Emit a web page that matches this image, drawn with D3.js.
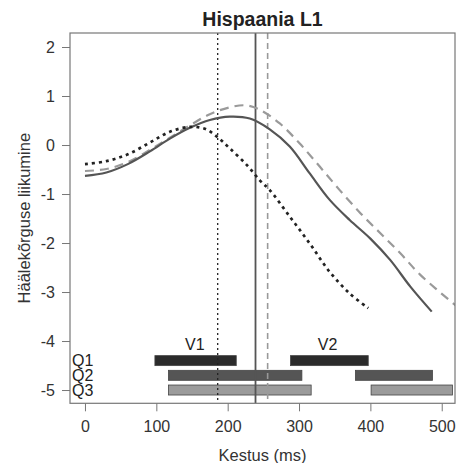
<!DOCTYPE html>
<html>
<head>
<meta charset="utf-8">
<script src="https://cdn.jsdelivr.net/npm/d3@7"></script>
<style>
  body { margin: 0; background: #fff; }
  svg { font-family: "Liberation Sans", Arial, sans-serif; }
</style>
</head>
<body>
<div class="chart"></div>
<script>
// pitch movement curves, Hispaania L1

var chartTitle = "Hispaania L1";
var xLabel = "Kestus (ms)";
var yLabel = "Häälekõrguse liikumine";

var xTicks = [0, 100, 200, 300, 400, 500];
var yTicks = [2, 1, 0, -1, -2, -3, -4, -5];

// [ms, value]
var solidCurve = [[0,-0.63],[30,-0.56],[60,-0.39],[91,-0.13],[119,0.13],[147,0.35],[175,0.51],
  [203,0.58],[231,0.54],[259,0.32],[287,-0.03],[315,-0.58],[343,-1.12],[371,-1.53],[400,-1.91],
  [428,-2.35],[456,-2.89],[486,-3.40]];
var dashedCurve = [[0,-0.53],[30,-0.49],[60,-0.35],[91,-0.10],[119,0.15],[147,0.40],[175,0.63],
  [203,0.77],[225,0.81],[245,0.72],[273,0.44],[301,0.03],[329,-0.44],[357,-0.92],[386,-1.39],
  [414,-1.80],[442,-2.21],[470,-2.65],[520,-3.28]];
var dottedCurve = [[0,-0.39],[30,-0.33],[60,-0.19],[91,0.05],[119,0.27],[147,0.37],[168,0.33],
  [185,0.17],[203,-0.07],[227,-0.41],[245,-0.72],[259,-0.92],[287,-1.46],[315,-2.01],[343,-2.59],
  [371,-3.03],[397,-3.33]];

// vertical markers (ms)
var markerDotted = 186;
var markerSolid = 239;
var markerDashed = 256;

// quantile rows: label, y value, [start, end] of V1 and V2
var rowLabels = ["Q1", "Q2", "Q3"];
var rowY = [-4.4, -4.7, -5.0];
var rowV1 = [[98, 212], [117, 304], [117, 317]];
var rowV2 = [[288, 397], [379, 487], [401, 515]];

var vowelLabels = ["V1", "V2"];
var vowelX = [154, 340];
var vowelY = -4.18;

var width = 457,
    height = 463,
    pLeft = 70,
    pRight = 455,
    pTop = 33,
    pBottom = 403.3;

var svg = d3.select(".chart").append("svg")
    .attr("width", width)
    .attr("height", height);

var xScale = d3.scaleLinear().domain([-21, 518.6]).range([pLeft, pRight]);
var yScale = d3.scaleLinear().domain([-5.271, 2.286]).range([pBottom, pTop]);

svg.append("clipPath").attr("id", "plot-clip")
  .append("rect")
    .attr("x", pLeft).attr("y", pTop)
    .attr("width", pRight - pLeft).attr("height", pBottom - pTop);

var plot = svg.append("g").attr("clip-path", "url(#plot-clip)");

// -------------------------- axes --------------------------

var yaxis = d3.axisLeft(yScale).tickValues(yTicks).tickSize(8).tickPadding(7).tickFormat(d3.format("d"));
var xaxis = d3.axisBottom(xScale).tickValues(xTicks).tickSize(8).tickPadding(9);

var gy = svg.append("g")
    .attr("transform", "translate(" + pLeft + ",0)")
    .call(yaxis);
var gx = svg.append("g")
    .attr("transform", "translate(0," + pBottom + ")")
    .call(xaxis);

[gx, gy].forEach(function(g) {
  g.select(".domain").remove();
  g.selectAll(".tick line").attr("stroke", "#777");
  g.selectAll(".tick text")
    .attr("fill", "#333")
    .style("font-size", "16px")
    .text(function(d) { return String(d); });
});

// -------------------------- bars --------------------------

var rows = rowLabels.map(function(l, i) {
  return { label: l, y: rowY[i], spans: [rowV1[i], rowV2[i]] };
});
var rowFill = ["#2b2b2b", "#555555", "#9b9b9b"];
var barH = 10;

rows.forEach(function(r, i) {
  plot.selectAll(".bar-" + i)
    .data(r.spans)
    .enter()
    .append("rect")
      .attr("x", function(d) { return xScale(d[0]); })
      .attr("width", function(d) { return xScale(d[1]) - xScale(d[0]); })
      .attr("y", yScale(r.y) - barH / 2)
      .attr("height", barH)
      .attr("fill", rowFill[i])
      .attr("stroke", "#444")
      .attr("stroke-width", 0.8);
});

svg.selectAll(".row-label")
  .data(rows)
  .enter()
  .append("text")
    .attr("x", pLeft + 2)
    .attr("y", function(d) { return yScale(d.y) + 5.5; })
    .attr("fill", "#222")
    .style("font-size", "16px")
    .text(function(d) { return d.label; });

svg.selectAll(".vowel-label")
  .data(vowelLabels)
  .enter()
  .append("text")
    .attr("x", function(d, i) { return xScale(vowelX[i]); })
    .attr("y", yScale(vowelY))
    .attr("text-anchor", "middle")
    .attr("fill", "#222")
    .style("font-size", "16px")
    .text(function(d) { return d; });

// -------------------------- markers --------------------------

function vline(v, color, w, dash) {
  plot.append("line")
    .attr("x1", xScale(v)).attr("x2", xScale(v))
    .attr("y1", pTop).attr("y2", pBottom)
    .attr("stroke", color)
    .attr("stroke-width", w)
    .attr("stroke-dasharray", dash);
}
vline(markerDotted, "#222", 1.3, "2,3");
vline(markerSolid, "#555", 1.8, null);
vline(markerDashed, "#999", 1.6, "6,4");

// -------------------------- curves --------------------------

var line = d3.line()
    .x(function(d) { return xScale(d[0]); })
    .y(function(d) { return yScale(d[1]); })
    .curve(d3.curveCatmullRom.alpha(0.5));

plot.append("path")
    .attr("d", line(dashedCurve))
    .attr("fill", "none")
    .attr("stroke", "#9a9a9a")
    .attr("stroke-width", 2.2)
    .attr("stroke-dasharray", "9,6");

plot.append("path")
    .attr("d", line(solidCurve))
    .attr("fill", "none")
    .attr("stroke", "#555")
    .attr("stroke-width", 2.2);

plot.append("path")
    .attr("d", line(dottedCurve))
    .attr("fill", "none")
    .attr("stroke", "#222")
    .attr("stroke-width", 2.7)
    .attr("stroke-dasharray", "3,4");

// -------------------------- frame + labels --------------------------

svg.append("rect")
    .attr("x", pLeft).attr("y", pTop)
    .attr("width", pRight - pLeft).attr("height", pBottom - pTop)
    .attr("fill", "none")
    .attr("stroke", "#777")
    .attr("stroke-width", 1.2);

svg.append("text")
    .attr("x", (pLeft + pRight) / 2)
    .attr("y", 25.5)
    .attr("text-anchor", "middle")
    .attr("fill", "#222")
    .style("font-size", "19.5px")
    .style("font-weight", "bold")
    .text(chartTitle);

svg.append("text")
    .attr("x", (pLeft + pRight) / 2)
    .attr("y", 461)
    .attr("text-anchor", "middle")
    .attr("fill", "#333")
    .style("font-size", "16.5px")
    .text(xLabel);

svg.append("text")
    .attr("transform", "translate(29.5," + ((pTop + pBottom) / 2) + ") rotate(-90)")
    .attr("text-anchor", "middle")
    .attr("fill", "#333")
    .style("font-size", "16.5px")
    .text(yLabel);
</script>
</body>
</html>
